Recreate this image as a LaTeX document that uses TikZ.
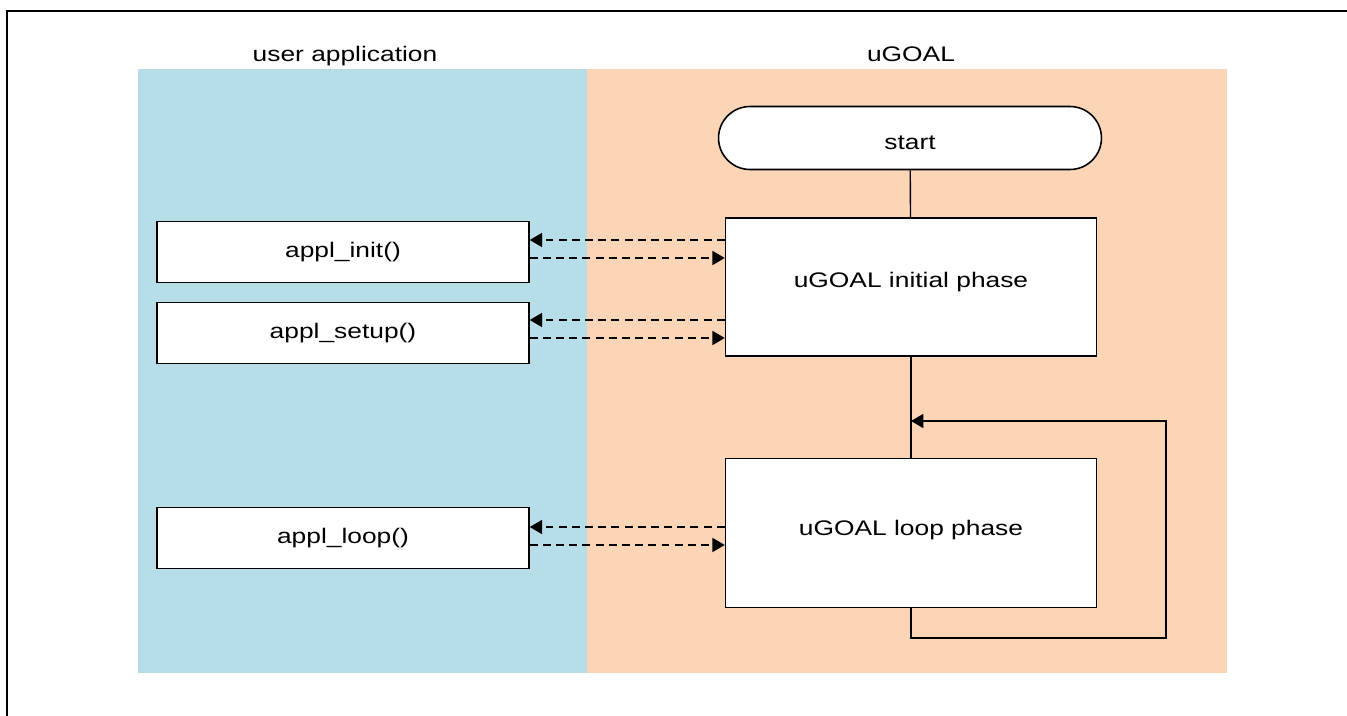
\documentclass[tikz,border=0pt]{standalone}
\usepackage{fontspec}
\setmainfont[FakeStretch=1.25]{Liberation Sans}
\usetikzlibrary{arrows.meta}

\begin{document}
\begin{tikzpicture}[x=0.02cm,y=-0.02cm,
    font=\fontsize{12}{14}\selectfont,
    box/.style={draw,line width=0.9pt,fill=white,minimum width=7.42cm},
    call/.style={dashed,line width=0.8pt,dash pattern=on 4.5pt off 3pt,-{Triangle[length=7pt,width=8pt]}},
    flow/.style={line width=0.8pt}]
  \useasboundingbox (0,0) rectangle (1347,716);
  \draw[line width=1.6pt] (7,716) -- (7,11) -- (1347,11);
  \fill[fill={rgb,255:red,183;green,221;blue,232}] (138,69) rectangle (587,673);
  \fill[fill={rgb,255:red,251;green,213;blue,181}] (587,69) rectangle (1227,673);
  \node[anchor=base] (user) at (345,62) {user application};
  \node[anchor=base] (goal) at (911,62) {uGOAL};
  % uGOAL side
  \node[draw,line width=0.9pt,fill=white,minimum width=7.66cm,minimum height=1.26cm,rounded corners=0.63cm,text height=13.5pt,text depth=0pt] (start) at (910,138) {start};
  \node[box,minimum height=2.76cm,text height=8.7pt,text depth=8.1pt] (init) at (911,287) {uGOAL initial phase};
  \node[box,minimum height=2.98cm,text height=8.7pt,text depth=5.9pt] (loop) at (911,533) {uGOAL loop phase};
  % user side
  \node[box,minimum width=7.44cm,minimum height=1.22cm] (ainit) at (343,252) {appl\_init()};
  \node[box,minimum width=7.44cm,minimum height=1.22cm] (asetup) at (343,333) {appl\_setup()};
  \node[box,minimum width=7.44cm,minimum height=1.22cm] (aloop) at (343,538) {appl\_loop()};
  \coordinate (merge) at (911,421);
  \coordinate (back) at (1166,638);
  \draw[flow] (start) -- (init);
  \draw[flow] (init) -- (loop);
  \draw[flow,-{Triangle[length=7pt,width=8pt]}] (loop.south) |- (back) |- (merge);
  \draw[call] (init.west |- 0,240) -- (ainit.east |- 0,240);
  \draw[call] (ainit.east |- 0,258) -- (init.west |- 0,258);
  \draw[call] (init.west |- 0,320) -- (asetup.east |- 0,320);
  \draw[call] (asetup.east |- 0,338) -- (init.west |- 0,338);
  \draw[call] (loop.west |- 0,527) -- (aloop.east |- 0,527);
  \draw[call] (aloop.east |- 0,545) -- (loop.west |- 0,545);
\end{tikzpicture}
\end{document}
